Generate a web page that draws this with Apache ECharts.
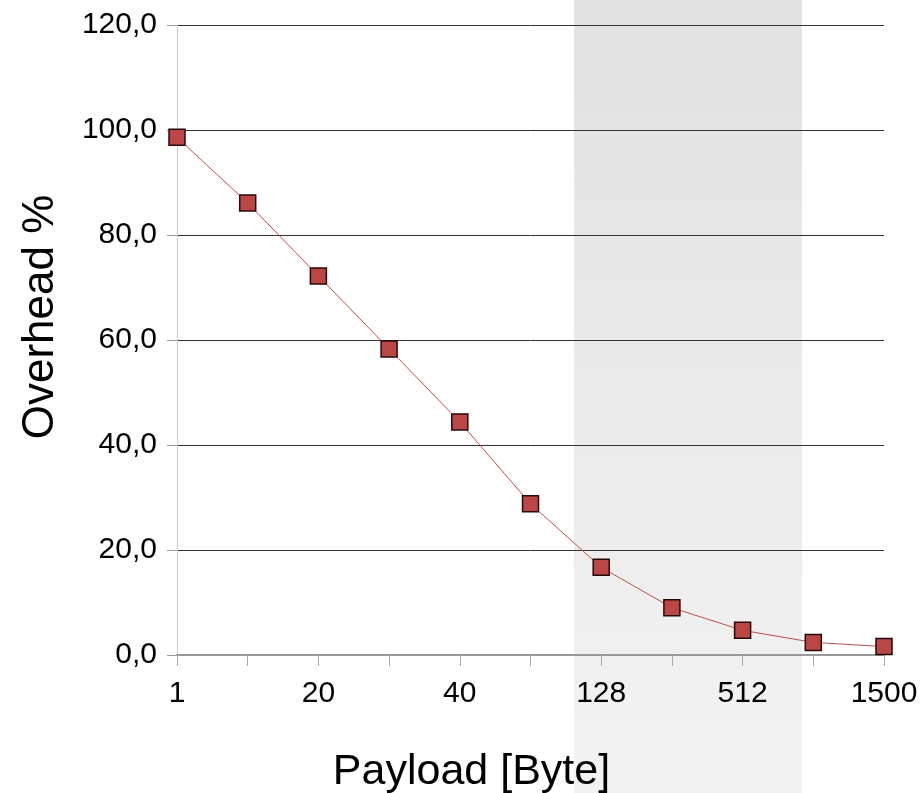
<!DOCTYPE html>
<html>
<head>
<meta charset="utf-8">
<script src="https://cdn.jsdelivr.net/npm/echarts@6/dist/echarts.min.js"></script>
<style>html,body{margin:0;padding:0;background:#fff;}#c{width:923px;height:793px;}</style>
</head>
<body>
<div id="c"></div>
<script>
const categories = ['1', '10', '20', '30', '40', '64', '128', '256', '512', '1024', '1500'];
const overhead = [98.6, 86.1, 72.2, 58.3, 44.4, 28.8, 16.7, 9.0, 4.7, 2.4, 1.6];
const yTicks = { min: 0, max: 120, interval: 20 };

const FONT = '"Liberation Sans", Arial, sans-serif';
const chart = echarts.init(document.getElementById('c'), null, { renderer: 'canvas' });
chart.setOption({
  backgroundColor: '#ffffff',
  animation: false,
  graphic: [{
    type: 'rect',
    z: -10,
    silent: true,
    shape: { x: 574, y: 0, width: 228, height: 793 },
    style: {
      fill: new echarts.graphic.LinearGradient(0, 0, 0, 1, [
        { offset: 0, color: '#e2e2e2' },
        { offset: 1, color: '#f3f3f3' }
      ])
    }
  }],
  grid: { left: 177, right: 39, top: 25, bottom: 138, containLabel: false, outerBoundsMode: 'none' },
  xAxis: {
    type: 'category',
    data: categories,
    boundaryGap: false,
    name: 'Payload [Byte]',
    nameLocation: 'middle',
    nameGap: 96,
    nameTextStyle: { fontFamily: FONT, fontSize: 43, color: '#000', padding: [0, 118, 0, 0] },
    axisLine: { lineStyle: { color: '#999', width: 2 } },
    axisTick: { show: true, interval: 0, length: 11, lineStyle: { color: '#aaa', width: 1 } },
    axisLabel: { interval: 1, margin: 24, fontFamily: FONT, fontSize: 30, color: '#000' },
    splitLine: { show: false }
  },
  yAxis: {
    type: 'value',
    min: yTicks.min,
    max: yTicks.max,
    interval: yTicks.interval,
    name: 'Overhead %',
    nameLocation: 'middle',
    nameGap: 114,
    nameTextStyle: { fontFamily: FONT, fontSize: 44, color: '#000', padding: [0, 0, 0, 46] },
    axisLine: { show: true, lineStyle: { color: '#ccc', width: 1 } },
    axisTick: { show: true, length: 10, lineStyle: { color: '#999', width: 1 } },
    axisLabel: {
      margin: 20, fontFamily: FONT, fontSize: 30, color: '#000',
      formatter: v => v.toFixed(1).replace('.', ',')
    },
    splitLine: { show: true, lineStyle: { color: '#333', width: 1 } }
  },
  series: [{
    type: 'line',
    data: overhead,
    symbol: 'rect',
    symbolSize: 16,
    lineStyle: { color: '#c0504d', width: 1 },
    itemStyle: { color: '#bb4646', borderColor: '#2a0808', borderWidth: 1.5 },
    z: 5
  }]
});
</script>
</body>
</html>
